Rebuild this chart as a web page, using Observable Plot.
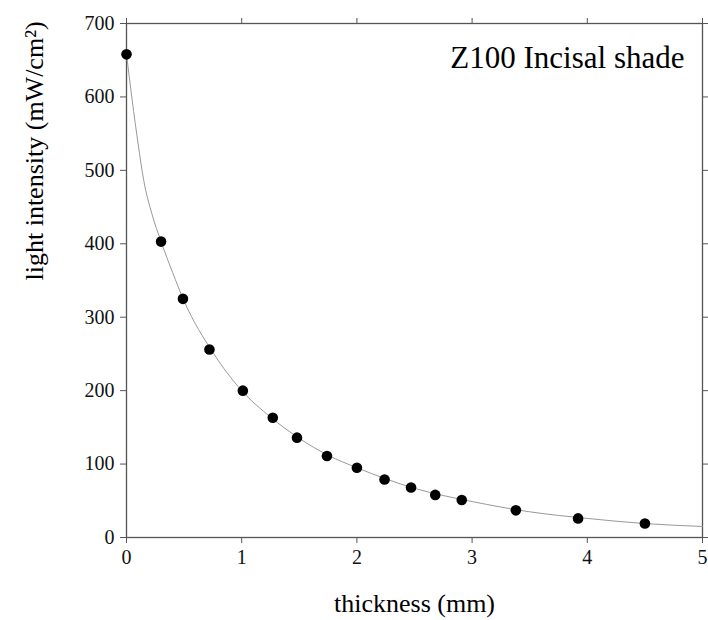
<!DOCTYPE html>
<html><head><meta charset="utf-8">
<script src="https://cdn.jsdelivr.net/npm/d3@7"></script>
<script src="https://cdn.jsdelivr.net/npm/@observablehq/plot@0.6"></script>
<style>body{margin:0;background:#fff}</style>
</head><body><div id="chart"></div>
<script>
const thickness = [0, 0.30, 0.49, 0.72, 1.01, 1.27, 1.48, 1.74, 2.00, 2.24, 2.47, 2.68, 2.91, 3.38, 3.92, 4.50];
const intensity = [658, 403, 325, 256, 200, 163, 136, 111, 95, 79, 68, 58, 51, 37, 26, 19];
const curveX = [0, 0.05, 0.1, 0.15, 0.22, 0.3, 0.4, 0.5, 0.75, 1, 1.25, 1.5, 1.75, 2, 2.5, 3, 3.5, 4, 4.5, 5];
const curveY = [658, 595, 537, 486, 441, 403, 361, 322, 252, 200, 164, 135, 112, 95, 67, 49, 35, 26, 19, 15];
const xTicks = [0, 1, 2, 3, 4, 5];
const yTicks = [0, 100, 200, 300, 400, 500, 600, 700];
const title = "Z100 Incisal shade";

const pts = thickness.map((x, i) => ({x, y: intensity[i]}));
const fit = curveX.map((x, i) => ({x, y: curveY[i]}));
const font = "Liberation Serif, Times New Roman, serif";
const blank = () => "";

const chart = Plot.plot({
  width: 708, height: 620,
  marginLeft: 126, marginRight: 6, marginTop: 23, marginBottom: 83,
  style: {fontFamily: font, background: "#fff"},
  x: {domain: [0, 5]},
  y: {domain: [0, 700]},
  marks: [
    Plot.frame({stroke: "#555", strokeWidth: 1.3}),
    Plot.axisX({anchor: "bottom", ticks: xTicks, tickFormat: d => String(d), tickSize: 6, tickPadding: 6, fontSize: 20, color: "#111", stroke: "#555", label: null}),
    Plot.axisX({anchor: "top", ticks: xTicks, tickSize: 6, tickFormat: blank, stroke: "#555", label: null}),
    Plot.axisY({anchor: "left", ticks: yTicks, tickFormat: d => String(d), tickSize: 6, tickPadding: 6, fontSize: 20, color: "#111", stroke: "#555", label: null}),
    Plot.axisY({anchor: "right", ticks: yTicks, tickSize: 6, tickFormat: blank, stroke: "#555", label: null}),
    Plot.line(fit, {x: "x", y: "y", curve: "monotone-x", stroke: "#999", strokeWidth: 1}),
    Plot.dot(pts, {x: "x", y: "y", r: 5.3, fill: "#000", stroke: "none"}),
    Plot.text([title], {frameAnchor: "top-right", dx: -18, dy: 22, fontSize: 31, fill: "#000", textAnchor: "end", lineAnchor: "top"}),
    Plot.text(["thickness (mm)"], {frameAnchor: "bottom", dy: 74, fontSize: 26, fill: "#000", lineAnchor: "bottom"}),
    Plot.text(["light intensity (mW/cm²)"], {frameAnchor: "left", dx: -92, rotate: -90, fontSize: 26, fill: "#000"})
  ]
});
document.getElementById("chart").append(chart);
</script></body></html>
